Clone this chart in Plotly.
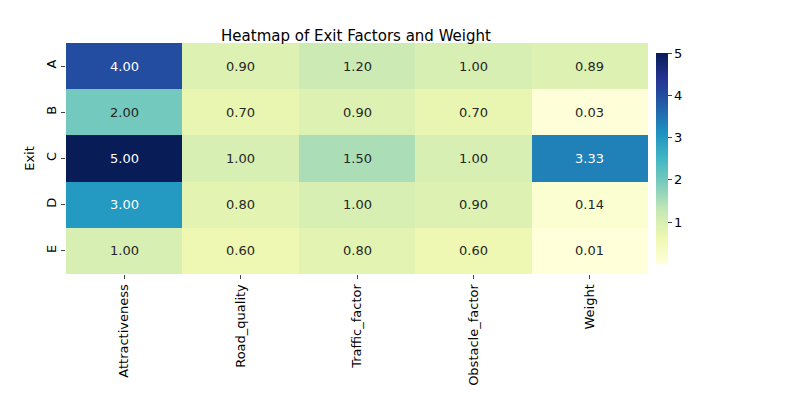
import plotly.graph_objects as go

exits = ["A", "B", "C", "D", "E"]
factors = ["Attractiveness", "Road_quality", "Traffic_factor", "Obstacle_factor", "Weight"]
attractiveness = [4.00, 2.00, 5.00, 3.00, 1.00]
road_quality = [0.90, 0.70, 1.00, 0.80, 0.60]
traffic_factor = [1.20, 0.90, 1.50, 1.00, 0.80]
obstacle_factor = [1.00, 0.70, 1.00, 0.90, 0.60]
weight = [0.89, 0.03, 3.33, 0.14, 0.01]

cols = [attractiveness, road_quality, traffic_factor, obstacle_factor, weight]
z = [[c[i] for c in cols] for i in range(len(exits))]
zmin = min(min(r) for r in z)
zmax = max(max(r) for r in z)

ylgnbu = ["#ffffd9", "#edf8b1", "#c7e9b4", "#7fcdbb", "#41b6c4",
          "#1d91c0", "#225ea8", "#253494", "#081d58"]
cscale = [[i / (len(ylgnbu) - 1), c] for i, c in enumerate(ylgnbu)]

fig = go.Figure(go.Heatmap(
    z=z, x=factors, y=exits, colorscale=cscale, zmin=zmin, zmax=zmax,
    colorbar=dict(x=1.0, xpad=8, xanchor="left", y=0.5, len=1, thickness=12,
                  outlinewidth=0, tickvals=[1, 2, 3, 4, 5], ticks="outside",
                  ticklen=4, tickfont=dict(size=13)),
))

for i, ex in enumerate(exits):
    for j, f in enumerate(factors):
        v = z[i][j]
        frac = (v - zmin) / (zmax - zmin)
        fig.add_annotation(x=f, y=ex, text=f"{v:.2f}", showarrow=False,
                           font=dict(size=13, color="white" if frac > 0.5 else "#262626"))

fig.update_layout(
    width=800, height=400, paper_bgcolor="white", plot_bgcolor="white",
    font=dict(family="DejaVu Sans", size=13, color="black"),
    margin=dict(l=58, r=160, t=35, b=134, autoexpand=False),
    title=dict(text="Heatmap of Exit Factors and Weight", x=0.435, xanchor="center",
               y=0.945, font=dict(size=15)),
    xaxis=dict(tickangle=-90, ticks="outside", ticklen=4, showgrid=False, automargin=False),
    yaxis=dict(autorange="reversed", tickangle=-90, ticks="outside", ticklen=4,
               showgrid=False, automargin=False,
               title=dict(text="Exit", standoff=6, font=dict(size=13))),
)

fig.write_html("out.html")
